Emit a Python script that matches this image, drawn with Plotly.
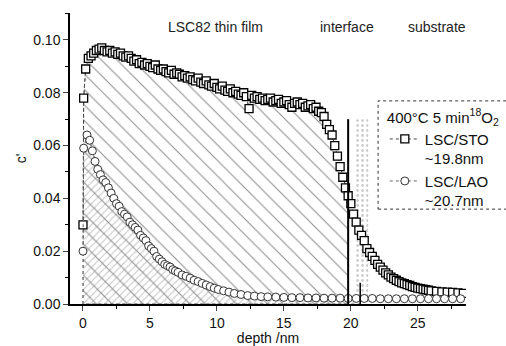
import plotly.graph_objects as go

# ---------------- data ----------------
depth_sto = [0.0, 0.05, 0.2, 0.4, 0.6, 0.8, 1.0, 1.2, 1.4, 1.6, 1.8, 2.0, 2.2, 2.4, 2.6, 2.8,
             3.0, 3.2, 3.4, 3.6, 3.8, 4.0, 4.2, 4.4, 4.6, 4.8, 5.0, 5.2, 5.4, 5.6, 5.8,
             6.0, 6.2, 6.4, 6.6, 6.8, 7.0, 7.2, 7.4, 7.6, 7.8, 8.0, 8.2, 8.4, 8.6, 8.8,
             9.0, 9.2, 9.4, 9.6, 9.8, 10.0, 10.2, 10.4, 10.6, 10.8, 11.0, 11.2, 11.4, 11.6, 11.8,
             12.0, 12.2, 12.4, 12.6, 12.8, 13.0, 13.2, 13.4, 13.6, 13.8, 14.0, 14.2, 14.4, 14.6, 14.8,
             15.0, 15.2, 15.4, 15.6, 15.8, 16.0, 16.2, 16.4, 16.6, 16.8, 17.0, 17.2, 17.4, 17.6, 17.8,
             18.0, 18.2, 18.4, 18.6, 18.8, 19.0, 19.2, 19.4, 19.6, 19.8, 20.0, 20.2, 20.4, 20.6, 20.8,
             21.0, 21.2, 21.4, 21.6, 21.8, 22.0, 22.2, 22.4, 22.6, 22.8, 23.0, 23.2, 23.4, 23.6, 23.8,
             24.0, 24.2, 24.4, 24.6, 24.8, 25.0, 25.2, 25.4, 25.6, 25.8, 26.0, 26.4, 26.8, 27.2, 27.6,
             28.0, 28.4]
c_sto = [0.030, 0.078, 0.089, 0.093, 0.094, 0.095, 0.096, 0.0965, 0.097, 0.096, 0.0955, 0.096, 0.095, 0.0955, 0.0945, 0.095,
         0.094, 0.0935, 0.094, 0.093, 0.092, 0.0925, 0.091, 0.0915, 0.0905, 0.091, 0.090, 0.0895, 0.0905, 0.089, 0.0885,
         0.089, 0.088, 0.0875, 0.0885, 0.087, 0.0875, 0.087, 0.086, 0.0865, 0.0855, 0.086, 0.085, 0.0845, 0.0855, 0.084,
         0.0835, 0.0845, 0.083, 0.0825, 0.0835, 0.082, 0.0815, 0.0825, 0.081, 0.0805, 0.0815, 0.080, 0.0805, 0.0795, 0.079,
         0.080, 0.0785, 0.074, 0.079, 0.078, 0.0785, 0.0775, 0.078, 0.077, 0.0775, 0.078, 0.0765, 0.077, 0.0775, 0.076,
         0.0765, 0.077, 0.0755, 0.0745, 0.076, 0.0765, 0.0755, 0.076, 0.0745, 0.075, 0.0755, 0.074, 0.0745, 0.073, 0.0725,
         0.071, 0.068, 0.066, 0.064, 0.060, 0.056, 0.052, 0.048, 0.044, 0.041, 0.038, 0.034, 0.031, 0.028, 0.026,
         0.024, 0.021, 0.0195, 0.018, 0.0165, 0.015, 0.014, 0.0128, 0.0118, 0.011, 0.0102, 0.0096, 0.009, 0.0085, 0.008,
         0.0077, 0.0073, 0.007, 0.0066, 0.0063, 0.006, 0.0058, 0.0056, 0.0054, 0.0052, 0.005, 0.0048, 0.0046, 0.0045, 0.0044,
         0.0042, 0.004]

depth_lao = [0.0, 0.05, 0.3, 0.5, 0.7, 0.9, 1.1, 1.3, 1.5, 1.7, 1.9, 2.1, 2.3, 2.5, 2.7, 2.9,
             3.1, 3.3, 3.5, 3.7, 3.9, 4.1, 4.3, 4.5, 4.7, 4.9, 5.1, 5.3, 5.5, 5.7, 5.9,
             6.1, 6.3, 6.5, 6.7, 6.9, 7.1, 7.4, 7.7, 8.0, 8.3, 8.6, 8.9, 9.2, 9.5, 9.8,
             10.1, 10.5, 10.9, 11.3, 11.8, 12.3, 12.8, 13.3, 13.8, 14.4, 15.0, 15.6, 16.2, 16.8, 17.4,
             18.0, 18.6, 19.2, 19.8, 20.4, 21.0, 21.6, 22.2, 22.8, 23.4, 24.0, 24.6, 25.2, 25.8, 26.4,
             27.0, 27.6, 28.2]
c_lao = [0.020, 0.059, 0.064, 0.062, 0.058, 0.054, 0.051, 0.049, 0.047, 0.046, 0.044, 0.042, 0.040, 0.038, 0.037, 0.035,
         0.034, 0.033, 0.031, 0.030, 0.029, 0.028, 0.026, 0.025, 0.024, 0.022, 0.021, 0.020, 0.018, 0.017, 0.016,
         0.015, 0.0145, 0.014, 0.013, 0.0125, 0.012, 0.011, 0.0105, 0.0098, 0.009, 0.0085, 0.0078, 0.0072, 0.0066, 0.006,
         0.0055, 0.005, 0.0045, 0.004, 0.0036, 0.0032, 0.003, 0.0028, 0.0027, 0.0026, 0.0025, 0.0024, 0.0024, 0.0023, 0.0023,
         0.0022, 0.0022, 0.0022, 0.0021, 0.0021, 0.0021, 0.0021, 0.002, 0.002, 0.002, 0.002, 0.002, 0.002, 0.002, 0.002,
         0.002, 0.002, 0.002]

interface_depth = [19.8, 20.7]          # STO, LAO film thickness (nm)
interface_line_top = [0.070, 0.008]
interface_band = [20.4, 21.3, 0.070]    # dotted interface band: x from, x to, top

x_ticks = [0, 5, 10, 15, 20, 25]
y_ticks = [0.00, 0.02, 0.04, 0.06, 0.08, 0.10]

region_labels = ["LSC82 thin film", "interface", "substrate"]
region_label_x = [9.9, 19.7, 26.4]

legend_names = ["LSC/STO<br>~19.8nm", "LSC/LAO<br>~20.7nm"]
legend_title = "400°C 5 min<sup>18</sup>O<sub>2</sub>"

FONT = "Arial, Liberation Sans, sans-serif"

fig = go.Figure()

# fill under STO profile up to interface
fx = [0.0] + [x for x in depth_sto if x <= interface_depth[0]] + [interface_depth[0], 0.0]
fy = [0.0] + [y for x, y in zip(depth_sto, c_sto) if x <= interface_depth[0]] + [0.0, 0.0]
fig.add_trace(go.Scatter(x=fx, y=fy, mode="lines", fill="toself",
                         line=dict(color="#555", width=1, dash="dot"),
                         fillcolor="rgba(0,0,0,0)",
                         fillpattern=dict(shape="\\", fgcolor="#222", bgcolor="rgba(0,0,0,0)",
                                          size=11, solidity=0.1),
                         showlegend=False, hoverinfo="skip"))

# fill under LAO profile up to interface
gx = [0.0] + [x for x in depth_lao if x <= interface_depth[1]] + [interface_depth[1], 0.0]
gy = [0.0] + [y for x, y in zip(depth_lao, c_lao) if x <= interface_depth[1]] + [0.0, 0.0]
fig.add_trace(go.Scatter(x=gx, y=gy, mode="lines", fill="toself",
                         line=dict(color="#777", width=0.8, dash="dot"),
                         fillcolor="rgba(0,0,0,0)",
                         fillpattern=dict(shape="/", fgcolor="#888", bgcolor="rgba(0,0,0,0)",
                                          size=5, solidity=0.2),
                         showlegend=False, hoverinfo="skip"))

# dotted interface band
bx0, bx1, btop = interface_band
fig.add_trace(go.Scatter(x=[bx0, bx1, bx1, bx0, bx0], y=[0, 0, btop, btop, 0], mode="lines",
                         fill="toself", line=dict(width=0), fillcolor="rgba(0,0,0,0)",
                         fillpattern=dict(shape=".", fgcolor="#999", bgcolor="rgba(0,0,0,0)",
                                          size=5, solidity=0.25),
                         showlegend=False, hoverinfo="skip"))

# data series
fig.add_trace(go.Scatter(x=depth_sto, y=c_sto, mode="lines+markers", name=legend_names[0],
                         line=dict(color="#444", width=1, dash="dot"),
                         marker=dict(symbol="square", size=8, color="white",
                                     line=dict(width=1.3, color="black"))))
fig.add_trace(go.Scatter(x=depth_lao, y=c_lao, mode="lines+markers", name=legend_names[1],
                         line=dict(color="#666", width=1, dash="dot"),
                         marker=dict(symbol="circle", size=8, color="white",
                                     line=dict(width=1, color="#333"))))

# interface lines
fig.add_shape(type="line", x0=interface_depth[0], x1=interface_depth[0], y0=0, y1=interface_line_top[0],
              line=dict(color="black", width=2))
fig.add_shape(type="line", x0=interface_depth[1], x1=interface_depth[1], y0=0, y1=interface_line_top[1],
              line=dict(color="black", width=1.5))

# legend frame (runs off the right edge like the reference)
fig.add_shape(type="rect", xref="paper", yref="paper", x0=0.778, x1=1.25, y0=0.326, y1=0.698,
              line=dict(color="#333", width=1, dash="dot"), fillcolor="white", layer="below")

for t, xv in zip(region_labels, region_label_x):
    fig.add_annotation(x=xv, y=0.952, xref="x", yref="paper", text=t, showarrow=False,
                       font=dict(family=FONT, size=14, color="#222"), yanchor="middle")

fig.update_layout(
    width=506, height=346,
    margin=dict(l=70, r=40, t=13, b=42, autoexpand=False),
    paper_bgcolor="white", plot_bgcolor="white",
    font=dict(family=FONT, size=14, color="#111"),
    legend=dict(x=0.795, y=0.69, xanchor="left", yanchor="top", bgcolor="rgba(0,0,0,0)",
                title=dict(text=legend_title, font=dict(family=FONT, size=15)),
                font=dict(family=FONT, size=15), itemwidth=30, valign="top", tracegroupgap=0),
    xaxis=dict(range=[-0.97, 28.6], tickvals=x_ticks, ticks="outside", ticklen=5,
               showline=True, linecolor="black", linewidth=1.5, showgrid=False, zeroline=False,
               minor=dict(dtick=2.5, tick0=0, ticks="outside", ticklen=3, tickcolor="black"),
               title=dict(text="depth /nm", standoff=2, font=dict(size=14)),
               tickfont=dict(size=14), automargin=False),
    yaxis=dict(range=[0, 0.1102], tickvals=y_ticks, tickformat=".2f", ticks="outside", ticklen=5,
               showline=True, linecolor="black", linewidth=1.5, showgrid=False, zeroline=False,
               minor=dict(dtick=0.01, tick0=0, ticks="outside", ticklen=3, tickcolor="black"),
               title=dict(text="c'", standoff=3, font=dict(size=14)),
               tickfont=dict(size=14), automargin=False),
)

fig.write_html("out.html", config={"displayModeBar": False},
               post_script="document.body.style.margin='0';document.body.style.overflow='hidden';")
